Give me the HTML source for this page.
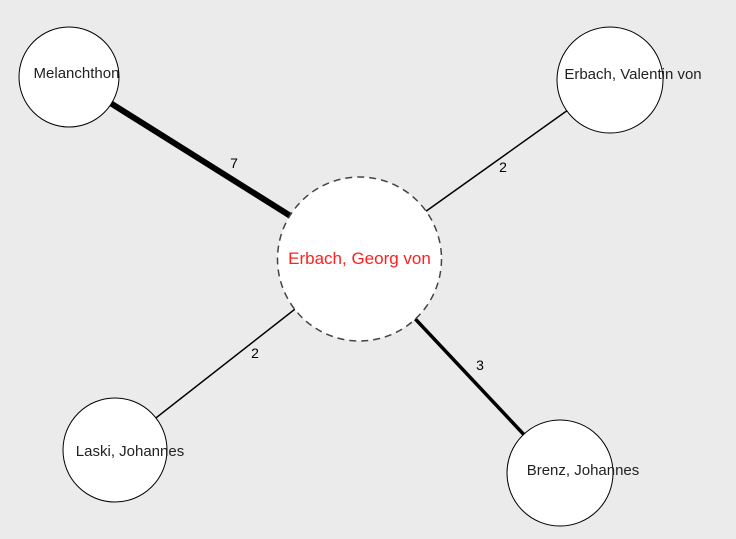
<!DOCTYPE html>
<html><head><style>html,body{margin:0;padding:0;background:#ebebeb;}svg{display:block}</style></head>
<body>
<svg width="736" height="539" viewBox="0 0 736 539" xmlns="http://www.w3.org/2000/svg" font-family="Liberation Sans, sans-serif">
<rect width="736" height="539" fill="#ebebeb"/>
<g stroke="#000">
<line x1="69" y1="77" x2="359" y2="259" stroke-width="6"/>
<line x1="610" y1="80" x2="359" y2="259" stroke-width="1.5"/>
<line x1="115" y1="450" x2="359" y2="259" stroke-width="1.5"/>
<line x1="560" y1="473" x2="359" y2="259" stroke-width="3.5"/>
</g>
<g font-size="14" fill="#000" text-anchor="middle">
<text x="234" y="168">7</text>
<text x="503" y="172">2</text>
<text x="255" y="358">2</text>
<text x="480" y="370">3</text>
</g>
<circle cx="359.5" cy="259" r="82" fill="#fff" stroke="#444" stroke-width="1.5" stroke-dasharray="7,5"/>
<circle cx="69" cy="77" r="50" fill="#fff" stroke="#000"/>
<circle cx="610" cy="80" r="53" fill="#fff" stroke="#000"/>
<circle cx="115" cy="450" r="52" fill="#fff" stroke="#000"/>
<circle cx="560" cy="473" r="53" fill="#fff" stroke="#000"/>
<g font-size="15" fill="#222" text-anchor="middle">
<text x="76.5" y="78">Melanchthon</text>
<text x="633" y="79">Erbach, Valentin von</text>
<text x="130" y="456">Laski, Johannes</text>
<text x="583" y="475">Brenz, Johannes</text>
</g>
<text x="359.5" y="264" font-size="17" fill="#ff2020" text-anchor="middle">Erbach, Georg von</text>
</svg>
</body></html>
